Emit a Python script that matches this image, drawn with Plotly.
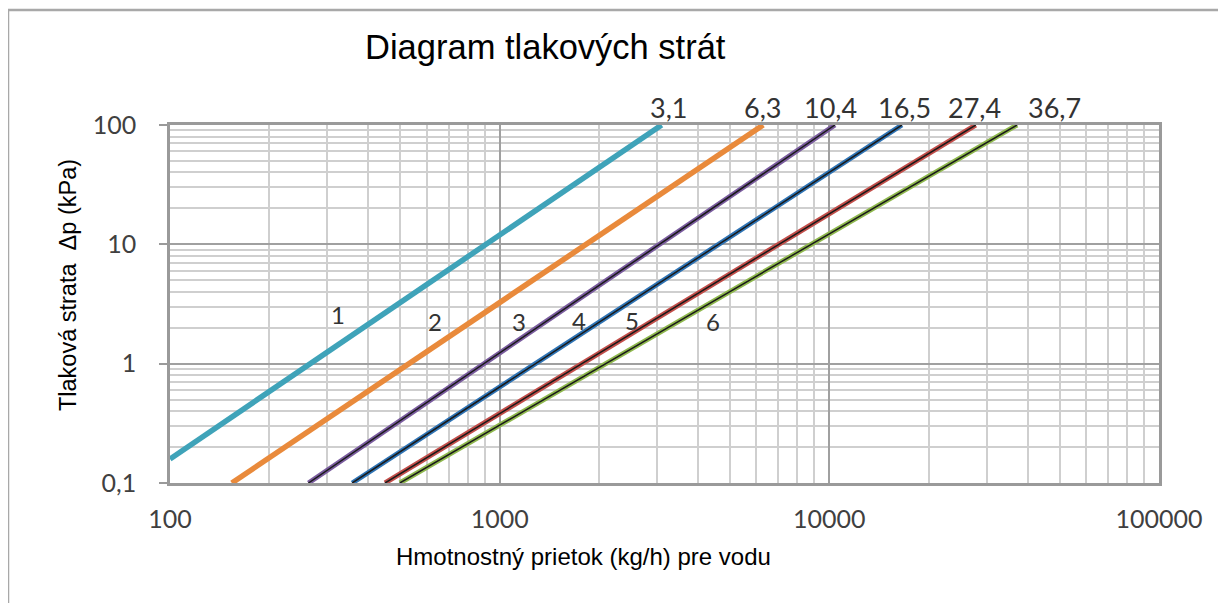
import math
import plotly.graph_objects as go

# ---------------- data ----------------
curve_names = ["1", "2", "3", "4", "5", "6"]
kv_labels = ["3,1", "6,3", "10,4", "16,5", "27,4", "36,7"]
# start / end points of each straight (log-log) curve
flow_start = [100, 154, 263, 357, 449, 498]          # kg/h
dp_start = [0.159, 0.1, 0.1, 0.1, 0.1, 0.1]          # kPa
flow_end = [3100, 6300, 10400, 16600, 27800, 37100]   # kg/h
dp_end = [100, 100, 100, 100, 100, 100]               # kPa

# label anchors (data units)
num_label_x = [324, 637, 1144, 1740, 2519, 4436]
num_label_y = [2.56, 2.24, 2.24, 2.32, 2.32, 2.24]
kv_label_x = [3263, 6290, 10113, 16955, 27640, 48340]

x_tick_vals = [100, 1000, 10000, 100000]
x_tick_text = ["100", "1000", "10000", "100000"]
y_tick_vals = [0.1, 1, 10, 100]
y_tick_text = ["0,1", "1", "10", "100"]

# ---------------- styles ----------------
colors = ["#3fa3b9", "#e98a3b", "#7a5c9e", "#2f74b5", "#c24e4a", "#8fb84e"]
widths = [5.5, 5.5, 5, 5, 5, 5]
black_core = [False, False, True, True, True, True]
num_font = "Lato, 'Open Sans', sans-serif"
txt_font = "'Liberation Sans', Arial, sans-serif"
major_grid = "#a0a0a0"
minor_grid = "#cfcfcf"

fig = go.Figure()
for i, name in enumerate(curve_names):
    xs = [flow_start[i], flow_end[i]]
    ys = [dp_start[i], dp_end[i]]
    fig.add_trace(go.Scatter(x=xs, y=ys, mode="lines", name=name,
                             line=dict(color=colors[i], width=widths[i]),
                             showlegend=False, hoverinfo="skip"))
    if black_core[i]:
        fig.add_trace(go.Scatter(x=xs, y=ys, mode="lines", name=name,
                                 line=dict(color="#1a1a1a", width=1.5),
                                 showlegend=False, hoverinfo="skip"))

annotations = []
for i, name in enumerate(curve_names):
    # annotations on log axes are positioned in log10 units
    annotations.append(dict(x=math.log10(num_label_x[i]), y=math.log10(num_label_y[i]),
                            xref="x", yref="y",
                            text=name, showarrow=False,
                            font=dict(family=num_font, size=24, color="#333333")))
    annotations.append(dict(x=math.log10(kv_label_x[i]), y=1.05, xref="x", yref="paper",
                            text=kv_labels[i], showarrow=False, yanchor="middle",
                            font=dict(family=num_font, size=27, color="#333333")))

annotations.append(dict(x=0.380, y=1.218, xref="paper", yref="paper",
                        text="Diagram tlakových strát", showarrow=False,
                        xanchor="center", yanchor="middle",
                        font=dict(family=txt_font, size=34.5, color="#000000")))
annotations.append(dict(x=0.4186, y=-0.204, xref="paper", yref="paper",
                        text="Hmotnostný prietok (kg/h) pre vodu", showarrow=False,
                        xanchor="center", yanchor="middle",
                        font=dict(family=txt_font, size=24, color="#000000")))
annotations.append(dict(x=-0.1031, y=0.553, xref="paper", yref="paper",
                        text="Tlaková strata  Δp (kPa)", showarrow=False, textangle=-90,
                        xanchor="center", yanchor="middle",
                        font=dict(family=txt_font, size=23.5, color="#000000")))

shapes = [
    dict(type="line", xref="paper", yref="paper", x0=-0.1638, x1=-0.1638, y0=-0.40, y1=1.3212,
         line=dict(color="#a8a8a8", width=2.5)),
    dict(type="line", xref="paper", yref="paper", x0=-0.1638, x1=1.10, y0=1.3212, y1=1.3212,
         line=dict(color="#a8a8a8", width=2.5)),
]

fig.update_layout(
    width=1218, height=595,
    margin=dict(l=162, r=67, t=117, b=120),
    paper_bgcolor="white", plot_bgcolor="white",
    annotations=annotations, shapes=shapes,
    showlegend=False,
)
fig.update_xaxes(type="log", range=[2, 5], tickvals=x_tick_vals, ticktext=x_tick_text,
                 showgrid=True, gridcolor=major_grid, gridwidth=2,
                 minor=dict(showgrid=True, gridcolor=minor_grid, gridwidth=2, dtick="D1"),
                 showline=True, linecolor="#9a9a9a", linewidth=2.5, mirror=True,
                 ticks="", ticklabelstandoff=12,
                 tickfont=dict(family=num_font, size=25, color="#404040"),
                 zeroline=False)
fig.update_yaxes(type="log", range=[-1, 2], tickvals=y_tick_vals, ticktext=y_tick_text,
                 showgrid=True, gridcolor=major_grid, gridwidth=2,
                 minor=dict(showgrid=True, gridcolor=minor_grid, gridwidth=2, dtick="D1"),
                 showline=True, linecolor="#9a9a9a", linewidth=2.5, mirror=True,
                 ticks="outside", ticklen=8, tickwidth=2, tickcolor="#9a9a9a",
                 ticklabelstandoff=18,
                 tickfont=dict(family=num_font, size=25, color="#404040"),
                 zeroline=False)

fig.write_html("out.html")
